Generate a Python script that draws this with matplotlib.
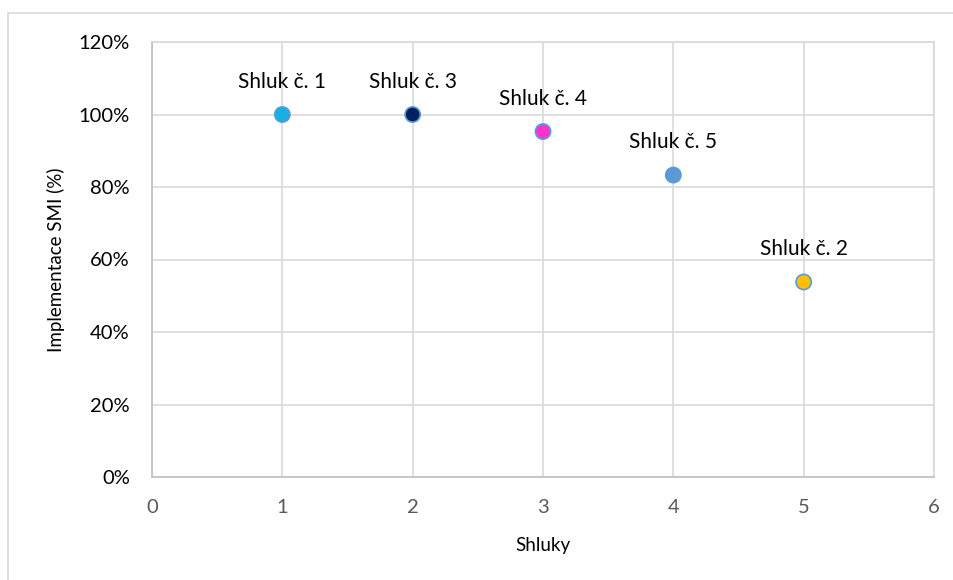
import matplotlib
matplotlib.use("Agg")
import matplotlib.pyplot as plt
from matplotlib.ticker import PercentFormatter
from matplotlib.patches import Rectangle

clusters = [1, 2, 3, 4, 5]
values = [100, 100, 95.3, 83.3, 53.8]
labels = ["Shluk č. 1", "Shluk č. 3", "Shluk č. 4", "Shluk č. 5", "Shluk č. 2"]
face_colors = ["#1CADE4", "#002060", "#FF33CC", "#5B9BD5", "#FFC000"]
x_ticks = [0, 1, 2, 3, 4, 5, 6]
y_ticks = [0, 20, 40, 60, 80, 100, 120]

plt.rcParams['font.family'] = ['Lato', 'DejaVu Sans']

W, H = 954, 580
fig = plt.figure(figsize=(W/100, H/100), dpi=100)
ax = fig.add_axes([152/W, 1-477/H, (934-152)/W, (477-42)/H])

fig.patches.append(Rectangle((8/W, -0.1), 1.2, 1.1 - 13/H, transform=fig.transFigure,
                             fill=False, edgecolor="#D9D9D9", linewidth=1.2, zorder=0))

ax.scatter(clusters, values, s=120, c=face_colors, edgecolors="#5B9BD5", linewidths=1.2, zorder=3)
for xv, yv, lab in zip(clusters, values, labels):
    ax.annotate(lab, (xv, yv), xytext=(0, 23.5), textcoords="offset points", ha="center", va="center",
                fontsize=15, color="#000000")

ax.set_xlim(0, 6)
ax.set_ylim(0, 120)
ax.set_xticks(x_ticks)
ax.set_yticks(y_ticks)
ax.yaxis.set_major_formatter(PercentFormatter(decimals=0))
ax.grid(True, color="#D9D9D9", linewidth=1.2)
ax.set_axisbelow(True)
for s in ["top", "right"]:
    ax.spines[s].set_color("#D9D9D9")
    ax.spines[s].set_linewidth(1.2)
for s in ["left", "bottom"]:
    ax.spines[s].set_color("#BFBFBF")
    ax.spines[s].set_linewidth(1.2)
ax.tick_params(length=0)
ax.tick_params(axis="x", labelsize=14.5, colors="#595959", pad=16)
ax.tick_params(axis="y", labelsize=14.5, labelcolor="#000000", pad=16)

fig.text((152+934)/2/W, 1-545/H, "Shluky", ha="center", va="center", fontsize=13.5)
fig.text(56/W, 1-(477+42)/2/H, "Implementace SMI (%)", ha="center", va="center",
         rotation=90, fontsize=13.5)

fig.savefig("out.png", dpi=100)
